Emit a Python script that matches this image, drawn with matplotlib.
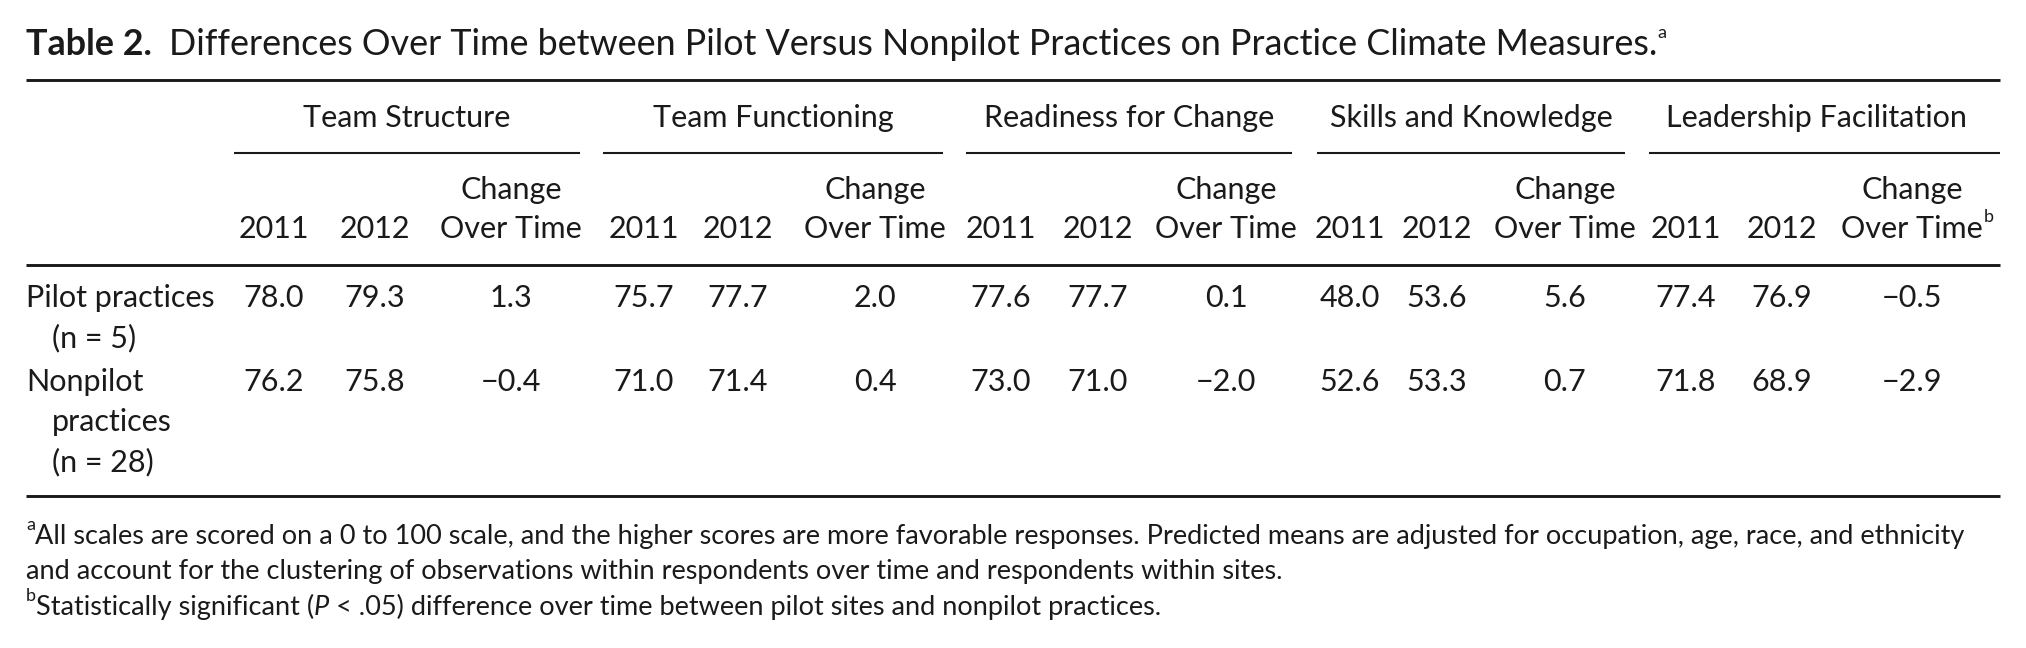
import matplotlib
matplotlib.use("Agg")
import matplotlib.pyplot as plt

plt.rcParams['font.family'] = ['Lato', 'DejaVu Sans']

# table content
groups = ["Team Structure", "Team Functioning", "Readiness for Change",
          "Skills and Knowledge", "Leadership Facilitation"]
year_labels = ["2011", "2012"]
row_labels = [["Pilot practices", "(n = 5)"],
              ["Nonpilot", "practices", "(n = 28)"]]
pilot_2011 = [78.0, 75.7, 77.6, 48.0, 77.4]
pilot_2012 = [79.3, 77.7, 77.7, 53.6, 76.9]
pilot_change = [1.3, 2.0, 0.1, 5.6, -0.5]
nonpilot_2011 = [76.2, 71.0, 73.0, 52.6, 71.8]
nonpilot_2012 = [75.8, 71.4, 71.0, 53.3, 68.9]
nonpilot_change = [-0.4, 0.4, -2.0, 0.7, -2.9]
significant = [False, False, False, False, True]

title_bold = "Table 2."
title_text = "Differences Over Time between Pilot Versus Nonpilot Practices on Practice Climate Measures."
note_a = ["All scales are scored on a 0 to 100 scale, and the higher scores are more favorable responses. "
          "Predicted means are adjusted for occupation, age, race, and ethnicity",
          "and account for the clustering of observations within respondents over time and respondents within sites."]
note_b = ["Statistically significant (", "P", " < .05) difference over time between pilot sites and nonpilot practices."]

# layout (pixels)
col_2011 = [274, 644, 1001, 1350, 1686]
col_2012 = [375, 738, 1098, 1437, 1782]
col_chg = [511, 875, 1226, 1565, 1912]
spans = [(234, 580), (603, 943), (966, 1292), (1317, 1625), (1649, 2000)]
head_x = [407, 773, 1129, 1471, 1816]
left, right = 26, 2000
fs = 22
fs_title = 25.8
fs_note = 19.5
fs_sup = 13

fig = plt.figure(figsize=(20.26, 6.48), dpi=100)
ax = fig.add_axes([0, 0, 1, 1])
ax.set_xlim(0, 2026)
ax.set_ylim(648, 0)
ax.axis('off')
renderer = fig.canvas.get_renderer()
ink = '#1a1a1a'


def run_text(x, y, parts):
    # draw text pieces one after the other on one baseline
    for s, kw in parts:
        dy = kw.pop('dy', 0)
        t = ax.text(x, y + dy, s, va='baseline', ha='left', color=ink, **kw)
        x += t.get_window_extent(renderer).width
    return x


def fmt(v):
    return f"{v:.1f}".replace('-', '\u2212')


# title
run_text(left, 55, [(title_bold + "  ", dict(fontsize=fs_title, fontweight='bold')),
                    (title_text, dict(fontsize=fs_title)),
                    ("a", dict(fontsize=fs_sup, dy=-17))])

# rules
ax.plot([left, right], [80, 80], color=ink, lw=2.1, solid_capstyle='butt')
ax.plot([left, right], [265, 265], color=ink, lw=2.1, solid_capstyle='butt')
ax.plot([left, right], [496, 496], color=ink, lw=2.1, solid_capstyle='butt')

# column headers
for i, g in enumerate(groups):
    x0, x1 = spans[i]
    ax.text(head_x[i], 127, g, ha='center', va='baseline', fontsize=fs, color=ink)
    ax.plot([x0, x1], [153, 153], color=ink, lw=1.5, solid_capstyle='butt')
    ax.text(col_2011[i], 238, year_labels[0], ha='center', va='baseline', fontsize=fs, color=ink)
    ax.text(col_2012[i], 238, year_labels[1], ha='center', va='baseline', fontsize=fs, color=ink)
    ax.text(col_chg[i], 199, "Change", ha='center', va='baseline', fontsize=fs, color=ink)
    t = ax.text(col_chg[i], 238, "Over Time", ha='center', va='baseline', fontsize=fs, color=ink)
    if significant[i]:
        bb = t.get_window_extent(renderer)
        ax.text(bb.x1 + 1, 222, "b", ha='left', va='baseline', fontsize=fs_sup, color=ink)

# body rows
row_y = [307, 391]
line_gap = 40
rows = [(pilot_2011, pilot_2012, pilot_change), (nonpilot_2011, nonpilot_2012, nonpilot_change)]
for r, (v11, v12, vc) in enumerate(rows):
    y = row_y[r]
    for k, lab in enumerate(row_labels[r]):
        ax.text(left + (0 if k == 0 else 26), y + k * line_gap, lab,
                ha='left', va='baseline', fontsize=fs, color=ink)
    for i in range(len(groups)):
        ax.text(col_2011[i], y, fmt(v11[i]), ha='center', va='baseline', fontsize=fs, color=ink)
        ax.text(col_2012[i], y, fmt(v12[i]), ha='center', va='baseline', fontsize=fs, color=ink)
        ax.text(col_chg[i], y, fmt(vc[i]), ha='center', va='baseline', fontsize=fs, color=ink)

# footnotes
run_text(left, 544, [("a", dict(fontsize=fs_sup, dy=-14)), (note_a[0], dict(fontsize=fs_note))])
ax.text(left, 579, note_a[1], ha='left', va='baseline', fontsize=fs_note, color=ink)
run_text(left, 615, [("b", dict(fontsize=fs_sup, dy=-14)),
                     (note_b[0], dict(fontsize=fs_note)),
                     (note_b[1], dict(fontsize=fs_note, style='italic')),
                     (note_b[2], dict(fontsize=fs_note))])

fig.savefig("out.png", dpi=100)
